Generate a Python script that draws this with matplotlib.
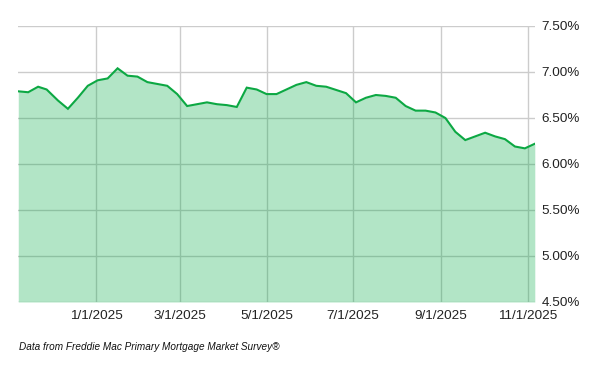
import matplotlib
matplotlib.use("Agg")
import matplotlib.pyplot as plt
import matplotlib.dates as mdates
from matplotlib.ticker import FuncFormatter, FixedLocator
import datetime as dt

dates = [
    "2024-11-07", "2024-11-14", "2024-11-21", "2024-11-27", "2024-12-05", "2024-12-12",
    "2024-12-19", "2024-12-26", "2025-01-02", "2025-01-09", "2025-01-16", "2025-01-23",
    "2025-01-30", "2025-02-06", "2025-02-13", "2025-02-20", "2025-02-27", "2025-03-06",
    "2025-03-13", "2025-03-20", "2025-03-27", "2025-04-03", "2025-04-10", "2025-04-17",
    "2025-04-24", "2025-05-01", "2025-05-08", "2025-05-15", "2025-05-22", "2025-05-29",
    "2025-06-05", "2025-06-12", "2025-06-18", "2025-06-26", "2025-07-03", "2025-07-10",
    "2025-07-17", "2025-07-24", "2025-07-31", "2025-08-07", "2025-08-14", "2025-08-21",
    "2025-08-28", "2025-09-04", "2025-09-11", "2025-09-18", "2025-09-25", "2025-10-02",
    "2025-10-09", "2025-10-16", "2025-10-23", "2025-10-30", "2025-11-06",
]
rates = [
    6.79, 6.78, 6.84, 6.81, 6.69, 6.60,
    6.72, 6.85, 6.91, 6.93, 7.04, 6.96,
    6.95, 6.89, 6.87, 6.85, 6.76, 6.63,
    6.65, 6.67, 6.65, 6.64, 6.62, 6.83,
    6.81, 6.76, 6.76, 6.81, 6.86, 6.89,
    6.85, 6.84, 6.81, 6.77, 6.67, 6.72,
    6.75, 6.74, 6.72, 6.63, 6.58, 6.58,
    6.56, 6.50, 6.35, 6.26, 6.30, 6.34,
    6.30, 6.27, 6.19, 6.17, 6.22,
]
x_ticks = ["2025-01-01", "2025-03-01", "2025-05-01", "2025-07-01", "2025-09-01", "2025-11-01"]
y_ticks = [4.5, 5.0, 5.5, 6.0, 6.5, 7.0, 7.5]
footnote = "Data from Freddie Mac Primary Mortgage Market Survey®"

plt.rcParams['font.family'] = ['Liberation Sans', 'DejaVu Sans']

d = [dt.datetime.strptime(s, "%Y-%m-%d") for s in dates]
xt = [mdates.date2num(dt.datetime.strptime(s, "%Y-%m-%d")) for s in x_ticks]

fig = plt.figure(figsize=(6, 3.71), dpi=100)
ax = fig.add_axes([18.25 / 600, 1 - 302 / 371, (534.8 - 18.25) / 600, (302 - 26) / 371])

ax.fill_between(d, y_ticks[0], rates, color='#00aa44', alpha=0.30, linewidth=0, zorder=2)
ax.plot(d, rates, color='#0ca843', linewidth=1.5, zorder=3, solid_joinstyle='miter')

ax.set_xlim(d[0], d[-1])
ax.set_ylim(y_ticks[0], y_ticks[-1])

ax.xaxis.set_major_locator(FixedLocator(xt))
ax.xaxis.set_major_formatter(FuncFormatter(
    lambda v, p: (lambda t: f"{t.month}/{t.day}/{t.year}")(mdates.num2date(v))))
ax.set_yticks(y_ticks)
ax.yaxis.set_major_formatter(FuncFormatter(lambda v, p: f"{v:.2f}%"))
ax.yaxis.tick_right()

ax.grid(True, color='#cccccc', linewidth=1.0, zorder=1)
ax.set_axisbelow(True)
for s in ax.spines.values():
    s.set_visible(False)
ax.tick_params(axis='both', length=0, labelsize=9.7, colors='#222222')
ax.tick_params(axis='x', pad=5.5)
ax.tick_params(axis='y', pad=5)

fig.text(19 / 600, 1 - 347 / 371, footnote, fontsize=7.2, style='italic',
         color='#111111', va='center', ha='left')

fig.savefig("out.png", dpi=100, facecolor='white')
